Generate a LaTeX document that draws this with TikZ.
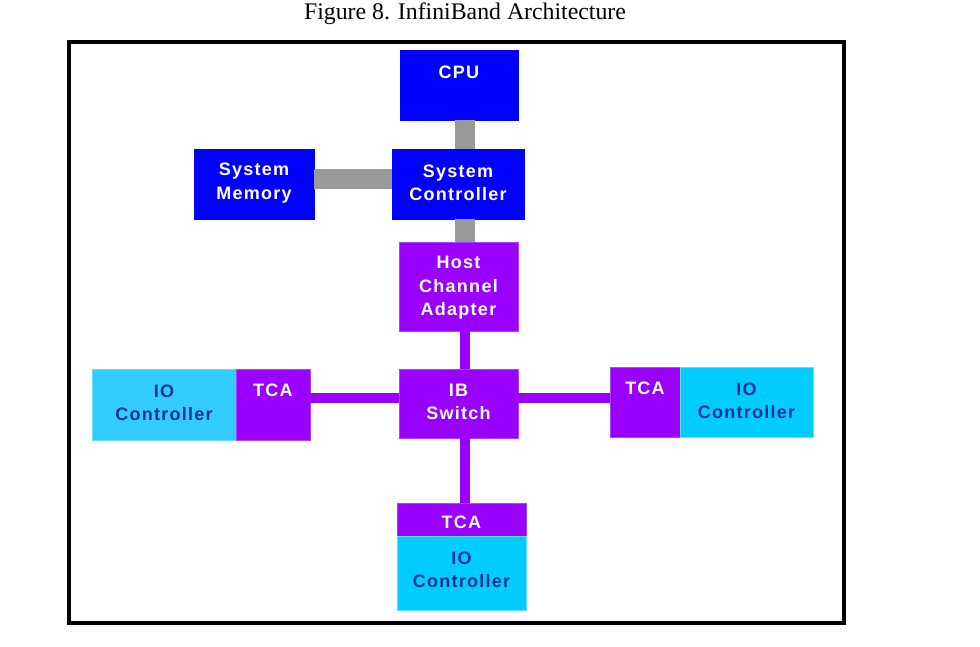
\documentclass[tikz,border=0pt]{standalone}
\usepackage{fontspec}
\setmainfont{Liberation Serif}
\newfontfamily\boxfont[LetterSpace=7]{Liberation Sans}
\definecolor{cpublue}{HTML}{0000FF}
\definecolor{ibpurple}{HTML}{9900FF}
\definecolor{ibpurpleedge}{HTML}{AA44FF}
\definecolor{iolight}{HTML}{33CCFF}
\definecolor{iocyan}{HTML}{00CCFF}
\definecolor{ioedge}{HTML}{66DDFF}
\definecolor{navytext}{HTML}{0A3399}
\definecolor{bargray}{HTML}{999999}
\begin{document}
\begin{tikzpicture}[x=1pt,y=-1pt,
  blubox/.style={fill=cpublue, draw=cpublue, line width=0.8pt, inner sep=0pt},
  purbox/.style={fill=ibpurple, draw=ibpurpleedge, line width=0.8pt, inner sep=0pt},
  iobox/.style={fill=#1, draw=ioedge, line width=0.8pt, inner sep=0pt},
  wtext/.style={text=white, font=\boxfont\bfseries\fontsize{18}{23.5}\selectfont, align=center, inner sep=0pt},
  ntext/.style={text=navytext, font=\boxfont\bfseries\fontsize{18}{23.5}\selectfont, align=center, inner sep=0pt},
  graybar/.style={draw=bargray, line width=20pt},
  purbar/.style={draw=ibpurple, line width=9.5pt}]
\useasboundingbox (0,0) rectangle (980,646);
\node[font=\fontsize{23.8}{27}\selectfont, inner sep=0pt] (title) at (465,14) {Figure 8. InfiniBand Architecture};
\node[draw=black, line width=4pt, minimum width=775pt, minimum height=581pt, inner sep=0pt] (frame) at (456.5,332.5) {};

% connector anchor points
\coordinate (cpuS) at (465,120);
\coordinate (scN) at (465,149);
\coordinate (scS) at (465,219);
\coordinate (hcaN) at (465,242);
\coordinate (hcaS) at (465,331);
\coordinate (swN) at (465,369);
\coordinate (swS) at (465,438);
\coordinate (tcabN) at (465,503);
\coordinate (smE) at (314,179);
\coordinate (scW) at (392,179);
\coordinate (tcalE) at (310,398);
\coordinate (swW) at (399,398);
\coordinate (swE) at (518,398);
\coordinate (tcarW) at (610,398);

% boxes
\node[blubox, minimum width=118pt, minimum height=70pt] (cpu) at (459,85) {};
\node[blubox, minimum width=120pt, minimum height=70pt] (sm) at (254,184) {};
\node[blubox, minimum width=132pt, minimum height=70pt] (sc) at (458,184) {};
\node[purbox, minimum width=119pt, minimum height=89pt] (hca) at (458.5,286.5) {};
\node[purbox, minimum width=119pt, minimum height=69pt] (sw) at (458.5,403.5) {};
\node[iobox=iolight, minimum width=144pt, minimum height=71pt] (iol) at (164,404.5) {};
\node[purbox, minimum width=74pt, minimum height=71pt] (tcal) at (273,404.5) {};
\node[purbox, minimum width=70pt, minimum height=70pt] (tcar) at (645,402) {};
\node[iobox=iocyan, minimum width=133pt, minimum height=70pt] (ior) at (746.5,402) {};
\node[purbox, minimum width=129pt, minimum height=33pt] (tcab) at (461.5,519.5) {};
\node[iobox=iocyan, minimum width=129pt, minimum height=74pt] (iob) at (461.5,573) {};

% connectors
\draw[graybar] (cpu.south -| cpuS) -- (sc.north -| scN);
\draw[graybar] (sc.south -| scS) -- (hca.north -| hcaN);
\draw[graybar] (sm.east |- smE) -- (sc.west |- scW);
\draw[purbar] (hca.south -| hcaS) -- (sw.north -| swN);
\draw[purbar] (sw.south -| swS) -- (tcab.north -| tcabN);
\draw[purbar] (tcal.east |- tcalE) -- (sw.west |- swW);
\draw[purbar] (sw.east |- swE) -- (tcar.west |- tcarW);

% texts
\node[wtext] (cpuT) at (459,72) {CPU};
\node[wtext] (smT) at (254,183) {System\\Memory};
\node[wtext] (scT) at (458,183) {System\\Controller};
\node[wtext] (hcaT) at (458.5,288) {Host\\Channel\\Adapter};
\node[wtext] (swT) at (458.5,402) {IB\\Switch};
\node[ntext] (iolT) at (164,403) {IO\\Controller};
\node[wtext] (tcalT) at (273,390) {TCA};
\node[wtext] (tcarT) at (645,388) {TCA};
\node[ntext] (iorT) at (746.5,401) {IO\\Controller};
\node[wtext] (tcabT) at (461.5,522) {TCA};
\node[ntext] (iobT) at (461.5,570) {IO\\Controller};
\end{tikzpicture}
\end{document}
